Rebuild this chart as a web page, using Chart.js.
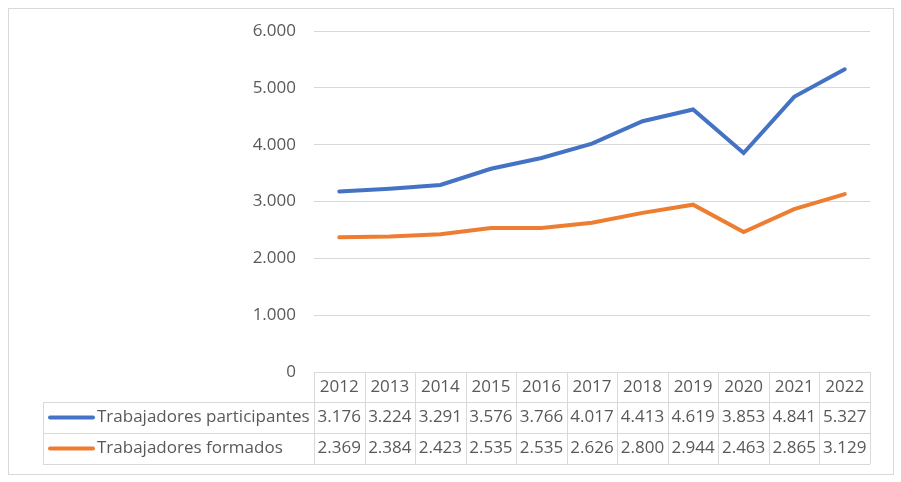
<!DOCTYPE html>
<html>
<head>
<meta charset="utf-8">
<script src="https://cdn.jsdelivr.net/npm/chart.js@4.4.1/dist/chart.umd.min.js"></script>
<style>
  body { margin: 0; background: #fff; }
  canvas { display: block; }
</style>
</head>
<body>
<canvas id="chart" width="901" height="482"></canvas>
<script>
const years = ['2012', '2013', '2014', '2015', '2016', '2017', '2018', '2019', '2020', '2021', '2022']
const participantes = [3176, 3224, 3291, 3576, 3766, 4017, 4413, 4619, 3853, 4841, 5327]
const formados = [2369, 2384, 2423, 2535, 2535, 2626, 2800, 2944, 2463, 2865, 3129]
const seriesNames = ['Trabajadores participantes', 'Trabajadores formados']
const seriesColors = ['#4472C4', '#ED7D31']

const textColor = '#595959'
const lineColor = '#d9d9d9'
const fontFamily = "'Open Sans', sans-serif"

function fmt(v) {
    return v.toLocaleString('de-DE')
}

// data table under the plot, laid out on the x scale columns
const dataTable = {
    id: 'dataTable',
    beforeDraw(chart) {
        const ctx = chart.ctx
        ctx.save()
        ctx.strokeStyle = lineColor
        ctx.lineWidth = 1
        ctx.strokeRect(8.5, 8.5, 885, 466)
        ctx.restore()
    },
    afterDraw(chart) {
        const ctx = chart.ctx
        const area = chart.chartArea
        const x = chart.scales.x
        const n = years.length
        const colW = (area.right - area.left) / n
        const top = area.bottom
        const rows = [top, 402, 433, 464]
        const labelLeft = 43

        ctx.save()
        ctx.strokeStyle = lineColor
        ctx.lineWidth = 1
        ctx.beginPath()
        ctx.moveTo(area.left, rows[0] + 0.5)
        ctx.lineTo(area.right, rows[0] + 0.5)
        for (let r = 1; r < rows.length; r++) {
            ctx.moveTo(labelLeft, rows[r] + 0.5)
            ctx.lineTo(area.right, rows[r] + 0.5)
        }
        for (let i = 0; i <= n; i++) {
            const px = Math.round(area.left + i * colW) + 0.5
            ctx.moveTo(px, rows[0])
            ctx.lineTo(px, rows[3])
        }
        ctx.moveTo(labelLeft + 0.5, rows[1])
        ctx.lineTo(labelLeft + 0.5, rows[3])
        ctx.stroke()

        ctx.fillStyle = textColor
        ctx.font = '17px ' + fontFamily
        ctx.textBaseline = 'middle'
        ctx.textAlign = 'center'
        const series = [participantes, formados]
        years.forEach((y, i) => {
            const cx = x.getPixelForValue(i)
            ctx.fillText(y, cx, (rows[0] + rows[1]) / 2)
            series.forEach((s, k) => {
                ctx.fillText(fmt(s[i]), cx, (rows[k + 1] + rows[k + 2]) / 2)
            })
        })

        ctx.textAlign = 'left'
        seriesNames.forEach((name, k) => {
            const cy = (rows[k + 1] + rows[k + 2]) / 2
            ctx.strokeStyle = seriesColors[k]
            ctx.lineWidth = 4
            ctx.lineCap = 'round'
            ctx.beginPath()
            ctx.moveTo(50, cy)
            ctx.lineTo(93, cy)
            ctx.stroke()
            ctx.fillText(name, 97, cy)
        })
        ctx.restore()
    },
}

new Chart('chart', {
    type: 'line',
    data: {
        labels: years,
        datasets: [
            {
                label: seriesNames[0],
                data: participantes,
                borderColor: seriesColors[0],
                borderWidth: 4,
                borderCapStyle: 'round',
                pointRadius: 0,
                tension: 0,
            },
            {
                label: seriesNames[1],
                data: formados,
                borderColor: seriesColors[1],
                borderWidth: 4,
                borderCapStyle: 'round',
                pointRadius: 0,
                tension: 0,
            },
        ],
    },
    options: {
        responsive: false,
        animation: false,
        devicePixelRatio: 1,
        layout: {
            padding: { left: 0, right: 31, top: 31, bottom: 110 },
        },
        plugins: {
            legend: { display: false },
            tooltip: { enabled: false },
        },
        scales: {
            x: {
                display: false,
                offset: true,
            },
            y: {
                min: 0,
                max: 6000,
                ticks: {
                    stepSize: 1000,
                    padding: 18,
                    color: textColor,
                    font: { size: 17, family: fontFamily },
                    callback: (v) => fmt(v),
                },
                grid: { color: lineColor, drawTicks: false },
                border: { display: false },
                afterFit(scale) {
                    scale.width = 314
                },
            },
        },
    },
    plugins: [dataTable],
})
</script>
</body>
</html>
